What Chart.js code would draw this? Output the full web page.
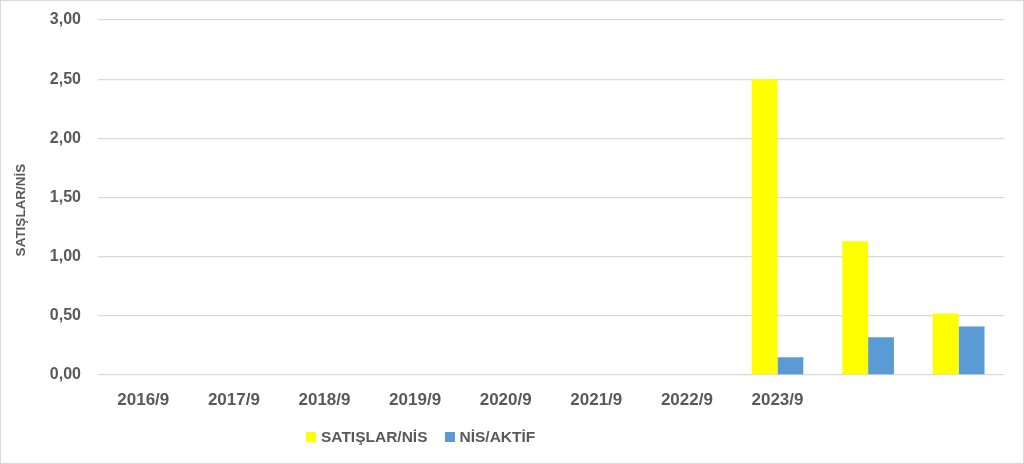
<!DOCTYPE html>
<html>
<head>
<meta charset="utf-8">
<script src="https://cdn.jsdelivr.net/npm/chart.js@4.4.1/dist/chart.umd.min.js"></script>
<style>
  html, body { margin: 0; padding: 0; background: #fff; }
  #wrap { position: relative; width: 1024px; height: 464px; overflow: hidden; }
  #frame { position: absolute; left: 0; top: 0; width: 1022px; height: 462px;
           border: 1px solid #d9d9d9; box-sizing: content-box; pointer-events: none; }
  canvas { position: absolute; left: 0; top: 0; }
  #legend { position: absolute; left: 306px; top: 428px; font: bold 15.5px "Liberation Sans", Arial, sans-serif;
            color: #595959; white-space: nowrap; }
  #legend span.item { display: inline-flex; align-items: center; margin-right: 17px; }
  #legend span.box { display: inline-block; width: 10px; height: 10px; margin-right: 5px; }
</style>
</head>
<body>
<div id="wrap">
  <canvas id="chart" width="1024" height="464"></canvas>
  <div id="legend"></div>
  <div id="frame"></div>
</div>
<script>
// kategoriler (son iki dönemin etiketi yok)
const donemler = ['2016/9', '2017/9', '2018/9', '2019/9', '2020/9', '2021/9', '2022/9', '2023/9', '', ''];

// seriler
const satislarNis = [null, null, null, null, null, null, null, 2.50, 1.13, 0.52];
const nisAktif    = [null, null, null, null, null, null, null, 0.15, 0.32, 0.41];

const yMin = 0;
const yMax = 3;
const yStep = 0.5;
const yTitle = 'SATIŞLAR/NİS';

const textColor = '#595959';
const gridColor = '#d9d9d9';
const fontFamily = '"Liberation Sans", Arial, sans-serif';

const datasets = [
    { label: 'SATIŞLAR/NİS', data: satislarNis, backgroundColor: '#ffff00' },
    { label: 'NİS/AKTİF', data: nisAktif, backgroundColor: '#5b9bd5' }
];

// Excel'deki gibi eksen başlığını biraz aşağıda çiz
const yTitlePlugin = {
    id: 'yTitle',
    afterDraw(chart) {
        const ctx = chart.ctx;
        ctx.save();
        ctx.translate(21, 210);
        ctx.rotate(-Math.PI / 2);
        ctx.font = 'bold 13.5px ' + fontFamily;
        ctx.fillStyle = textColor;
        ctx.textAlign = 'center';
        ctx.textBaseline = 'middle';
        ctx.fillText(yTitle, 0, 0);
        ctx.restore();
    }
};

const chart = new Chart(document.getElementById('chart').getContext('2d'), {
    type: 'bar',
    data: {
        labels: donemler,
        datasets: datasets.map(d => ({
            ...d,
            barPercentage: 1,
            categoryPercentage: 0.57,
            borderWidth: 0
        }))
    },
    options: {
        responsive: false,
        animation: false,
        devicePixelRatio: 1,
        layout: { padding: { top: 20, right: 20, bottom: 0, left: 0 } },
        plugins: {
            legend: { display: false },
            tooltip: { enabled: false }
        },
        scales: {
            x: {
                grid: { display: false },
                border: { display: false },
                ticks: {
                    color: textColor,
                    padding: 7,
                    maxRotation: 0,
                    autoSkip: false,
                    font: { family: fontFamily, size: 17, weight: 'bold' }
                },
                afterFit: scale => { scale.height = 89; }
            },
            y: {
                min: yMin,
                max: yMax,
                grid: { color: gridColor, lineWidth: 1.3, drawTicks: true, tickLength: 17, tickColor: 'rgba(0,0,0,0)' },
                border: { display: false },
                ticks: {
                    stepSize: yStep,
                    color: textColor,
                    padding: 0,
                    font: { family: fontFamily, size: 16, weight: 'bold' },
                    callback: v => v.toFixed(2).replace('.', ',')
                },
                afterFit: scale => { scale.width = 98; }
            }
        }
    },
    plugins: [yTitlePlugin]
});

// legend
const legend = document.getElementById('legend');
datasets.forEach(d => {
    const item = document.createElement('span');
    item.className = 'item';
    const box = document.createElement('span');
    box.className = 'box';
    box.style.background = d.backgroundColor;
    item.appendChild(box);
    item.appendChild(document.createTextNode(d.label));
    legend.appendChild(item);
});
</script>
</body>
</html>
